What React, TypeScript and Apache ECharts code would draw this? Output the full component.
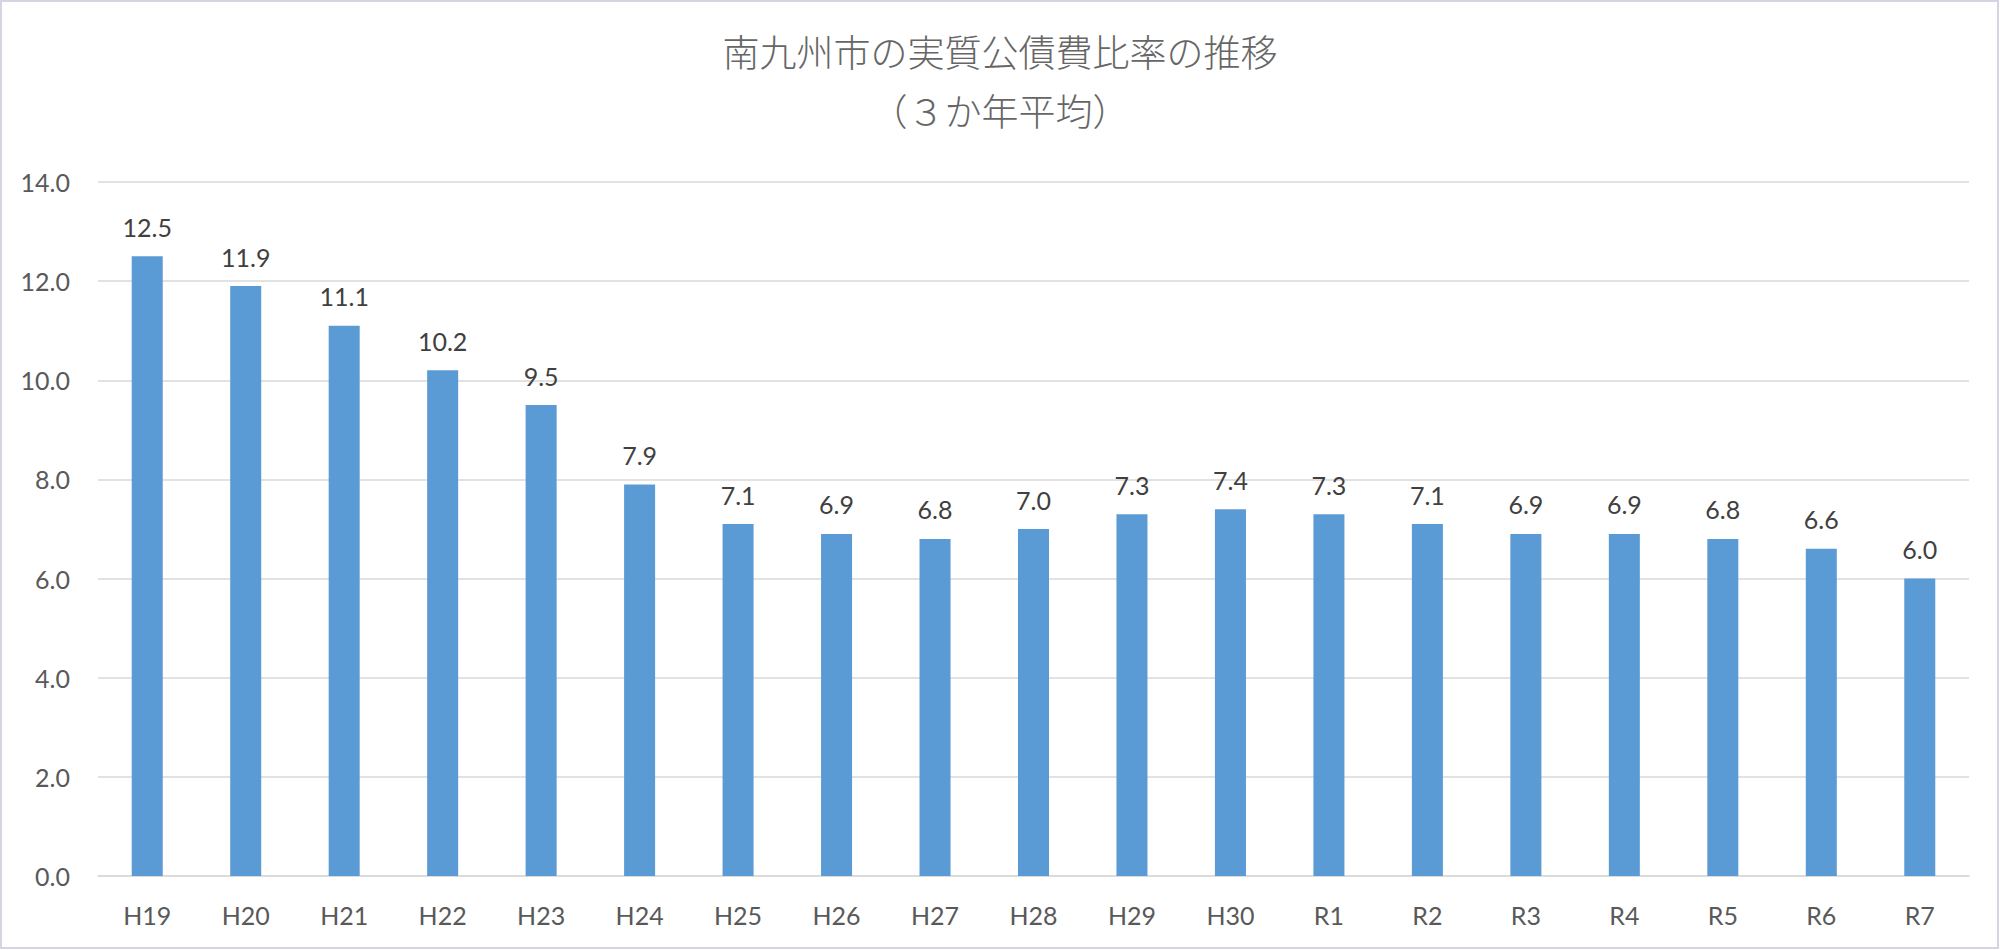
import React, { useEffect, useRef } from 'react';
import * as echarts from 'echarts';

const years = [
  'H19', 'H20', 'H21', 'H22', 'H23', 'H24', 'H25', 'H26', 'H27', 'H28',
  'H29', 'H30', 'R1', 'R2', 'R3', 'R4', 'R5', 'R6', 'R7',
];
const ratio = [
  12.5, 11.9, 11.1, 10.2, 9.5, 7.9, 7.1, 6.9, 6.8, 7.0,
  7.3, 7.4, 7.3, 7.1, 6.9, 6.9, 6.8, 6.6, 6.0,
];
const titleLines = ['南九州市の実質公債費比率の推移', '（３か年平均）'];

const latin = 'Lato, "Noto Sans", sans-serif';
const cjk = '"Noto Sans CJK JP", "Noto Sans", sans-serif';

export default function App(): JSX.Element {
  const chartRef = useRef<HTMLDivElement>(null);

  useEffect(() => {
    if (chartRef.current === null) return;
    const chart = echarts.init(chartRef.current, undefined, { renderer: 'svg' });
    const option: echarts.EChartsOption = {
      animation: false,
      backgroundColor: '#ffffff',
      title: {
        text: titleLines.join('\n'),
        left: 'center',
        top: 16,
        textStyle: {
          fontFamily: cjk,
          fontSize: 37,
          fontWeight: 300,
          color: '#666666',
          lineHeight: 59,
        },
      },
      grid: { left: 98, right: 31, top: 182, bottom: 74 },
      xAxis: {
        type: 'category',
        data: years,
        axisLine: { lineStyle: { color: '#D9D9D9', width: 1.5 } },
        axisTick: { show: false },
        axisLabel: {
          color: '#595959',
          fontFamily: latin,
          fontSize: 25,
          margin: 26,
        },
      },
      yAxis: {
        type: 'value',
        min: 0,
        max: 14,
        interval: 2,
        axisLine: { show: false },
        axisTick: { show: false },
        splitLine: { lineStyle: { color: '#D9D9D9', width: 1.5 } },
        axisLabel: {
          color: '#595959',
          fontFamily: latin,
          fontSize: 25,
          margin: 28,
          formatter: (v: number) => v.toFixed(1),
        },
      },
      series: [
        {
          type: 'bar',
          data: ratio,
          barWidth: '31.5%',
          itemStyle: { color: '#5B9BD5' },
          label: {
            show: true,
            position: 'top',
            distance: 17,
            color: '#404040',
            fontFamily: latin,
            fontSize: 25,
            formatter: (p: any) => Number(p.value).toFixed(1),
          },
        },
      ],
      graphic: [
        {
          type: 'rect',
          silent: true,
          shape: { x: 1, y: 1, width: 1997, height: 947 },
          style: { fill: 'none', stroke: '#D6D4E2', lineWidth: 2 },
        },
      ],
    };
    chart.setOption(option);
    return () => {
      chart.dispose();
    };
  }, []);

  return (
    <div
      ref={chartRef}
      style={{ position: 'fixed', left: 0, top: 0, width: 2000, height: 950 }}
    />
  );
}
